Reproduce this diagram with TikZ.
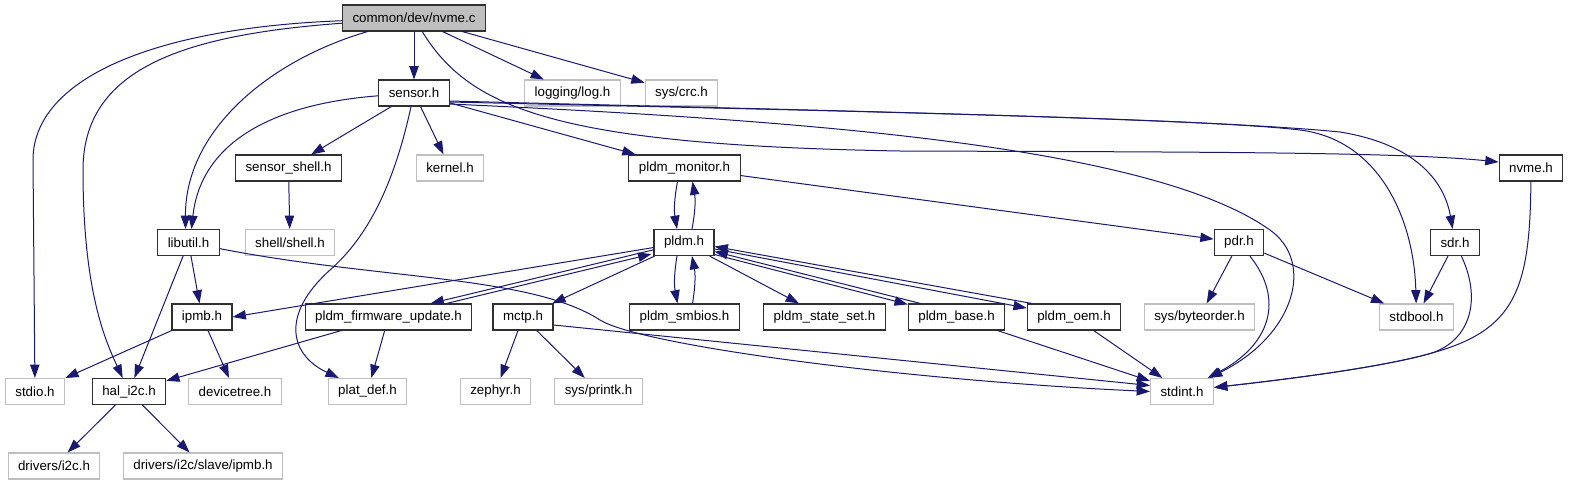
\documentclass[tikz,border=0pt]{standalone}
\usepackage{fontspec}
\setmainfont{Liberation Sans}
\usetikzlibrary{arrows.meta,calc}
\definecolor{edgeblue}{RGB}{25,25,112}
\definecolor{extgray}{RGB}{191,191,191}
\definecolor{docborder}{RGB}{48,48,48}

\tikzset{
  file/.style={draw=docborder,line width=0.8pt,fill=white,font=\fontsize{10}{12}\selectfont,
    inner xsep=7.5pt,inner ysep=0pt,minimum height=19.5pt},
  sysfile/.style={file,draw=extgray},
  rootfile/.style={file,fill=extgray},
  edge/.style={draw=edgeblue,line width=0.75pt,-{Triangle[length=10pt,width=7pt]}}
}

\begin{document}
\begin{tikzpicture}[x=0.75pt,y=-0.75pt]
  \useasboundingbox (0,0) rectangle (1569,485);
  % files
  \node[rootfile] (nvmec) at (414,18) {common/dev/nvme.c};
  \node[file] (sensorh) at (414,93) {sensor.h};
  \node[sysfile] (logh) at (572.5,93) {logging/log.h};
  \node[sysfile] (crch) at (681.5,93) {sys/crc.h};
  \node[file] (sensshell) at (288.5,168) {sensor\_shell.h};
  \node[sysfile] (kernelh) at (450,168) {kernel.h};
  \node[file] (pldmmon) at (684.5,168) {pldm\_monitor.h};
  \node[file] (nvmeh) at (1531,168) {nvme.h};
  \node[file] (libutil) at (188.5,242.5) {libutil.h};
  \node[sysfile] (shellh) at (290,242.5) {shell/shell.h};
  \node[file] (pldmh) at (684,242.5) {pldm.h};
  \node[file] (pdrh) at (1239,242.5) {pdr.h};
  \node[file] (sdrh) at (1455,242.5) {sdr.h};
  \node[file] (ipmbh) at (202,317) {ipmb.h};
  \node[file] (pldmfw) at (388.5,317) {pldm\_firmware\_update.h};
  \node[file] (mctph) at (523,317) {mctp.h};
  \node[file] (pldmsmb) at (684.5,317) {pldm\_smbios.h};
  \node[file] (pldmss) at (824.5,317) {pldm\_state\_set.h};
  \node[file] (pldmbase) at (956.5,317) {pldm\_base.h};
  \node[file] (pldmoem) at (1074,317) {pldm\_oem.h};
  \node[sysfile] (byteord) at (1199.5,317) {sys/byteorder.h};
  \node[sysfile] (stdboolh) at (1416.5,317) {stdbool.h};
  \node[sysfile] (stdioh) at (35,391.5) {stdio.h};
  \node[file] (hali2c) at (129,391.5) {hal\_i2c.h};
  \node[sysfile] (devtree) at (235,391.5) {devicetree.h};
  \node[sysfile] (platdef) at (367.5,391.5) {plat\_def.h};
  \node[sysfile] (zephyrh) at (495.5,391.5) {zephyr.h};
  \node[sysfile] (printkh) at (598.5,391.5) {sys/printk.h};
  \node[sysfile] (stdinth) at (1182,391.5) {stdint.h};
  \node[sysfile] (drvi2c) at (54,466) {drivers/i2c.h};
  \node[sysfile] (drvipmb) at (203,466) {drivers/i2c/slave/ipmb.h};

  % includes of nvme.c
  \draw[edge] (nvmec) -- (sensorh);
  \draw[edge] (nvmec) -- (logh);
  \draw[edge] (nvmec) -- (crch);
  \draw[edge] (nvmec) .. controls (270,60) and (185,130) .. ($(libutil.north)+(-3,0)$);
  \draw[edge] (nvmec) .. controls (150,28) and (33,80) .. (33,160) -- (stdioh);
  \draw[edge] (nvmec) .. controls (180,35) and (83,70) .. (83,170)
    .. controls (83,290) and (105,340) .. (hali2c);
  \draw[edge] (nvmec) .. controls (470,110) and (560,145) .. (900,151)
    .. controls (1200,152) and (1400,152) .. ($(nvmeh.west)+(0,-6)$);

  % sensor.h
  \draw[edge] (sensorh) -- (sensshell);
  \draw[edge] (sensorh) -- (kernelh);
  \draw[edge] (sensorh) -- (pldmmon);
  \draw[edge] (sensorh) .. controls (260,105) and (200,150) .. ($(libutil.north)+(3,0)$);
  \draw[edge] (sensorh) .. controls (395,180) and (370,235) .. (330,270)
    .. controls (280,315) and (290,355) .. (platdef);
  \draw[edge] ($(sensorh.east)+(0,8)$) .. controls (800,110) and (1200,118) .. (1340,132)
    .. controls (1420,145) and (1445,185) .. (sdrh);
  \draw[edge] ($(sensorh.east)+(0,9)$) .. controls (800,110) and (1200,118) .. (1300,130)
    .. controls (1380,140) and (1414,220) .. (stdboolh);
  \draw[edge] ($(sensorh.east)+(0,11)$) .. controls (800,120) and (1150,145) .. (1270,230)
    .. controls (1315,262) and (1295,335) .. (stdinth);

  \draw[edge] (sensshell) -- (shellh);

  % pldm_monitor.h and pldm.h
  \draw[edge] ($(pldmmon.south)+(-7,0)$) to[bend right=10] ($(pldmh.north)+(-7,0)$);
  \draw[edge] ($(pldmh.north)+(8,0)$) to[bend right=10] ($(pldmmon.south)+(8,0)$);
  \draw[edge] (pldmmon) -- (pdrh);
  \draw[edge] (pldmh) -- (ipmbh.east);
  \draw[edge] (pldmh) -- ($(pldmfw.north)+(42,0)$);
  \draw[edge] ($(pldmfw.north)+(58,0)$) -- ($(pldmh.south west)+(-2,-2)$);
  \draw[edge] (pldmh) -- (mctph);
  \draw[edge] ($(pldmh.south)+(-7,0)$) to[bend right=10] ($(pldmsmb.north)+(-7,0)$);
  \draw[edge] ($(pldmsmb.north)+(8,0)$) to[bend right=10] ($(pldmh.south)+(8,0)$);
  \draw[edge] (pldmh) -- (pldmss);
  \draw[edge] ($(pldmh.east)+(0,12)$) -- (pldmbase);
  \draw[edge] ($(pldmbase.north)+(-36,0)$) -- ($(pldmh.east)+(0,9)$);
  \draw[edge] ($(pldmh.east)+(0,6.5)$) -- (pldmoem);
  \draw[edge] ($(pldmoem.north)+(-42,0)$) -- ($(pldmh.east)+(0,4)$);

  % libutil.h, ipmb.h, hal_i2c.h
  \draw[edge] (libutil) -- (ipmbh);
  \draw[edge] (libutil) -- (hali2c);
  \draw[edge] (libutil) .. controls (380,280) and (530,275) .. (600,320)
    .. controls (640,345) and (900,380) .. (stdinth.west);
  \draw[edge] (ipmbh) -- (stdioh);
  \draw[edge] (ipmbh) -- (devtree);
  \draw[edge] (pldmfw) -- (hali2c);
  \draw[edge] (pldmfw) -- (platdef);
  \draw[edge] (hali2c) -- (drvi2c);
  \draw[edge] (hali2c) -- (drvipmb);

  % mctp.h and the rest
  \draw[edge] (mctph) -- (zephyrh);
  \draw[edge] (mctph) -- (printkh);
  \draw[edge] ($(mctph.east)+(0,8)$) -- ($(stdinth.west)+(0,-6)$);
  \draw[edge] (pldmbase) -- (stdinth);
  \draw[edge] (pldmoem) -- (stdinth);
  \draw[edge] (pdrh) -- (byteord);
  \draw[edge] (pdrh) -- (stdboolh);
  \draw[edge] (pdrh) .. controls (1285,300) and (1270,345) .. (stdinth);
  \draw[edge] (sdrh) -- (stdboolh);
  \draw[edge] (sdrh) .. controls (1482,300) and (1470,340) .. (1432,353)
    .. controls (1380,368) and (1280,380) .. ($(stdinth.east)+(0,-4)$);
  \draw[edge] (nvmeh) .. controls (1530,290) and (1515,330) .. (1432,353)
    .. controls (1380,368) and (1280,380) .. ($(stdinth.east)+(0,-4)$);
\end{tikzpicture}
\end{document}
